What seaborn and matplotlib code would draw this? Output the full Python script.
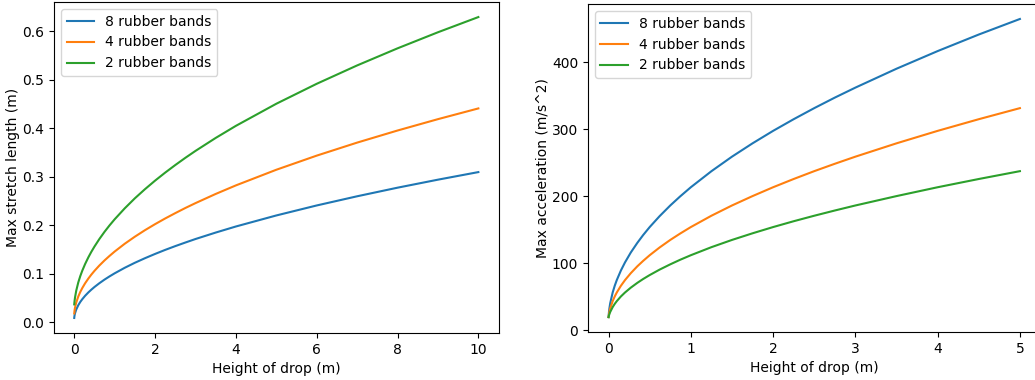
import matplotlib
matplotlib.use("Agg")
import matplotlib.pyplot as plt
import pandas as pd
import seaborn as sns

# Drop heights (m) at which the stretch was evaluated
heights_stretch = [0, 0.005, 0.01, 0.02, 0.05, 0.1, 0.15, 0.2, 0.27, 0.35, 0.42,
                   0.5, 0.62, 0.75, 0.87, 1, 1.25, 1.5, 1.75, 2, 2.25, 2.5, 2.75,
                   3, 3.5, 4, 5, 6, 7, 8, 9, 10]
stretch_8 = [0.0093, 0.0129, 0.0154, 0.0191, 0.0267, 0.0355, 0.0423, 0.0480,
             0.0550, 0.0619, 0.0673, 0.0730, 0.0807, 0.0883, 0.0947, 0.1012,
             0.1126, 0.1229, 0.1323, 0.1411, 0.1494, 0.1572, 0.1646, 0.1718,
             0.1851, 0.1976, 0.2203, 0.2409, 0.2598, 0.2775, 0.2940, 0.3096]
stretch_4 = [0.0186, 0.0227, 0.0258, 0.0307, 0.0412, 0.0534, 0.0629, 0.0710,
             0.0808, 0.0905, 0.0982, 0.1062, 0.1171, 0.1278, 0.1368, 0.1460,
             0.1621, 0.1766, 0.1900, 0.2024, 0.2141, 0.2251, 0.2357, 0.2457,
             0.2646, 0.2822, 0.3144, 0.3435, 0.3703, 0.3952, 0.4186, 0.4407]
stretch_2 = [0.0372, 0.0417, 0.0454, 0.0516, 0.0656, 0.0824, 0.0956, 0.1068,
             0.1205, 0.1342, 0.1450, 0.1562, 0.1716, 0.1867, 0.1995, 0.2124,
             0.2350, 0.2556, 0.2744, 0.2920, 0.3085, 0.3241, 0.3390, 0.3532,
             0.3799, 0.4048, 0.4503, 0.4914, 0.5292, 0.5644, 0.5975, 0.6288]

# Drop heights (m) at which the peak acceleration was evaluated
heights_accel = [0, 0.005, 0.01, 0.02, 0.05, 0.075, 0.1, 0.15, 0.2, 0.27, 0.35,
                 0.42, 0.5, 0.62, 0.75, 0.87, 1, 1.25, 1.5, 1.75, 2, 2.25, 2.5,
                 2.75, 3, 3.5, 4, 4.5, 5]
accel_8 = [19.6, 27.2, 32.4, 40.2, 56.3, 66.3, 74.8, 89.1, 101.2, 115.9, 130.4,
           141.9, 153.9, 170.1, 186.1, 199.6, 213.3, 237.2, 258.9, 278.8, 297.4,
           314.8, 331.3, 347.0, 361.9, 390.1, 416.4, 441.1, 464.3]
accel_4 = [19.6, 23.9, 27.2, 32.4, 43.4, 50.4, 56.3, 66.3, 74.8, 85.1, 95.4,
           103.4, 111.9, 123.4, 134.7, 144.2, 153.9, 170.8, 186.1, 200.1, 213.3,
           225.6, 237.3, 248.3, 258.9, 278.8, 297.4, 314.8, 331.3]
accel_2 = [19.6, 21.95, 23.9, 27.2, 34.5, 39.3, 43.4, 50.4, 56.3, 63.5, 70.7,
           76.4, 82.3, 90.4, 98.3, 105.1, 111.9, 123.9, 134.7, 144.6, 153.9,
           162.6, 170.8, 178.6, 186.1, 200.1, 213.3, 225.6, 237.3]

labels = ["8 rubber bands", "4 rubber bands", "2 rubber bands"]


def long_form(xs, series, value_name):
    frames = []
    for label, ys in zip(labels, series):
        frames.append(pd.DataFrame({"height": xs, value_name: ys, "bands": label}))
    return pd.concat(frames, ignore_index=True)


stretch_df = long_form(heights_stretch, [stretch_8, stretch_4, stretch_2], "stretch")
accel_df = long_form(heights_accel, [accel_8, accel_4, accel_2], "accel")

plt.rcParams["font.family"] = ["DejaVu Sans"]
palette = ["#1f77b4", "#ff7f0e", "#2ca02c"]

fig = plt.figure(figsize=(10.35, 3.8), dpi=100)
ax1 = fig.add_axes([0.0522, 0.1237, 0.4295, 0.871])
ax2 = fig.add_axes([0.5681, 0.1263, 0.4372, 0.863])

sns.lineplot(data=stretch_df, x="height", y="stretch", hue="bands",
             hue_order=labels, palette=palette, ax=ax1, linewidth=1.5)
ax1.set_xlabel("Height of drop (m)")
ax1.set_ylabel("Max stretch length (m)", labelpad=2)
ax1.legend(loc="upper left")

sns.lineplot(data=accel_df, x="height", y="accel", hue="bands",
             hue_order=labels, palette=palette, ax=ax2, linewidth=1.5)
ax2.set_xlabel("Height of drop (m)")
ax2.set_ylabel("Max acceleration (m/s^2)", labelpad=2)
ax2.legend(loc="upper left")

fig.savefig("out.png", dpi=100)
